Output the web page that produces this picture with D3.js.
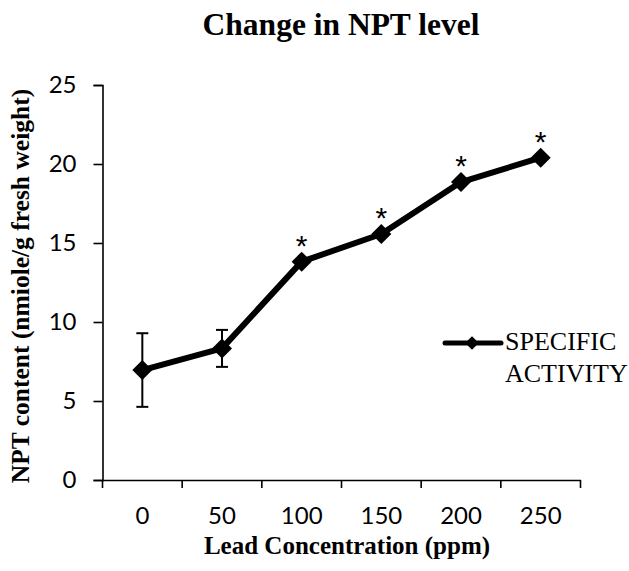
<!DOCTYPE html>
<html>
<head>
<meta charset="utf-8">
<script src="https://cdn.jsdelivr.net/npm/d3@7"></script>
<style>
  html, body { margin: 0; padding: 0; background: #fff; }
  svg { display: block; }
</style>
</head>
<body>
<svg id="chart" width="629" height="571"></svg>
<script>
const categories = ["0", "50", "100", "150", "200", "250"];
const values = [6.96, 8.33, 13.82, 15.57, 18.86, 20.4];
const errors = [2.33, 1.17, null, null, null, null];
const significant = [false, false, true, true, true, true];
const yTicks = [0, 5, 10, 15, 20, 25];
const title = "Change in NPT level";
const xTitle = "Lead Concentration (ppm)";
const yTitle = "NPT content (nmiole/g fresh weight)";
const seriesName = ["SPECIFIC", "ACTIVITY"];

(function () {
const svg = d3.select("#chart");
const pLeft = 102.5, pRight = 580.5, pTop = 85, pBottom = 480;

const x = d3.scaleBand().domain(categories).range([pLeft, pRight]).padding(0);
const y = d3.scaleLinear().domain([0, 25]).range([pBottom, pTop]);
const cx = d => x(d) + x.bandwidth() / 2;

const sans = "Lato, 'Open Sans', sans-serif";
const serif = "'Liberation Serif', 'Times New Roman', serif";

// Title
svg.append("text").attr("x", 341).attr("y", 35).attr("text-anchor", "middle")
  .attr("font-family", serif).attr("font-weight", "bold").attr("font-size", 31.5)
  .text(title);

// Y axis
const yAxis = d3.axisLeft(y).tickValues(yTicks).tickSize(9).tickPadding(17);
const gy = svg.append("g").attr("transform", `translate(${pLeft},0)`).call(yAxis);
gy.select(".domain").attr("stroke", "#000").attr("stroke-width", 1.6);
gy.selectAll(".tick line").attr("stroke", "#000").attr("stroke-width", 1.6);
gy.selectAll(".tick text").attr("font-family", sans).attr("font-size", 24).attr("fill", "#000");

// X axis (labels)
const xAxis = d3.axisBottom(x).tickSize(0).tickPadding(27);
const gx = svg.append("g").attr("transform", `translate(0,${pBottom})`).call(xAxis);
gx.select(".domain").attr("stroke", "#000").attr("stroke-width", 1.6);
gx.selectAll(".tick text").attr("font-family", sans).attr("font-size", 24).attr("fill", "#000");
// boundary ticks
const bounds = categories.map(c => x(c)).concat([x(categories[categories.length - 1]) + x.bandwidth()]);
gx.selectAll(".btick").data(bounds).enter().append("line")
  .attr("x1", d => d).attr("x2", d => d).attr("y1", 0).attr("y2", 8)
  .attr("stroke", "#000").attr("stroke-width", 1.6);

// Axis titles
svg.append("text").attr("x", 347).attr("y", 554).attr("text-anchor", "middle")
  .attr("font-family", serif).attr("font-weight", "bold").attr("font-size", 25)
  .text(xTitle);
svg.append("text").attr("transform", "translate(29,286) rotate(-90)").attr("text-anchor", "middle")
  .attr("font-family", serif).attr("font-weight", "bold").attr("font-size", 25.5)
  .text(yTitle);

// Error bars
const data = categories.map((c, i) => ({c, v: values[i], e: errors[i], s: significant[i]}));
const eb = svg.append("g");
data.filter(d => d.e != null).forEach(d => {
  const px = cx(d.c);
  eb.append("line").attr("x1", px).attr("x2", px).attr("y1", y(d.v + d.e)).attr("y2", y(d.v - d.e))
    .attr("stroke", "#000").attr("stroke-width", 2);
  [d.v + d.e, d.v - d.e].forEach(v => {
    eb.append("line").attr("x1", px - 6).attr("x2", px + 6).attr("y1", y(v)).attr("y2", y(v))
      .attr("stroke", "#000").attr("stroke-width", 2);
  });
});

// Line
const line = d3.line().x(d => cx(d.c)).y(d => y(d.v));
svg.append("path").datum(data).attr("d", line).attr("fill", "none")
  .attr("stroke", "#000").attr("stroke-width", 6).attr("stroke-linejoin", "round");

// Diamonds
const diamond = d3.symbol().type(d3.symbolSquare).size(200);
svg.selectAll(".pt").data(data).enter().append("path")
  .attr("d", diamond)
  .attr("transform", d => `translate(${cx(d.c)},${y(d.v)}) rotate(45)`)
  .attr("fill", "#000");

// Asterisks
svg.selectAll(".star").data(data.filter(d => d.s)).enter().append("text")
  .attr("x", d => cx(d.c)).attr("y", d => y(d.v) - 6)
  .attr("text-anchor", "middle").attr("font-family", "'Liberation Sans', Arial, sans-serif").attr("font-size", 30)
  .attr("fill", "#000").text("*");

// Legend
const lg = svg.append("g");
lg.append("line").attr("x1", 445).attr("x2", 501).attr("y1", 343).attr("y2", 343)
  .attr("stroke", "#000").attr("stroke-width", 5).attr("stroke-linecap", "round");
lg.append("path").attr("d", d3.symbol().type(d3.symbolSquare).size(90)())
  .attr("transform", "translate(472,343) rotate(45)").attr("fill", "#000");
seriesName.forEach((t, i) => {
  lg.append("text").attr("x", 505).attr("y", 350 + i * 32)
    .attr("font-family", serif).attr("font-size", 26).attr("fill", "#000").text(t);
});
})();
</script>
</body>
</html>
